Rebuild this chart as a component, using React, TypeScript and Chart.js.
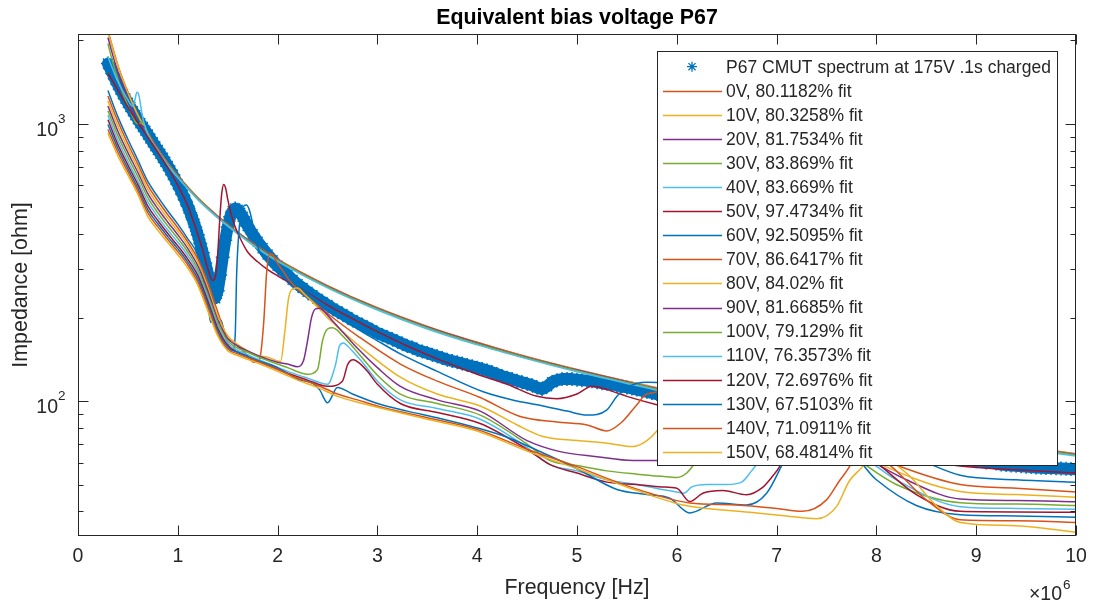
import React, { useEffect, useRef } from "react";
import { Chart, registerables } from "chart.js";

Chart.register(...registerables);

// ---------- data (frequency in MHz, impedance in ohm) ----------
const DATA_LABEL = "P67 CMUT spectrum at 175V .1s charged";
const DATA_F = [
  0.3, 0.325, 0.35, 0.375, 0.4, 0.425, 0.45, 0.475, 0.5, 0.525, 0.55, 0.575, 0.6, 0.625, 0.65, 0.675, 0.7, 0.725, 0.75, 0.775,
  0.8, 0.825, 0.85, 0.875, 0.9, 0.925, 0.95, 0.975, 1.0, 1.025, 1.05, 1.075, 1.1, 1.125, 1.15, 1.175, 1.2, 1.225, 1.25, 1.275,
  1.3, 1.325, 1.35, 1.375, 1.4, 1.425, 1.45, 1.475, 1.5, 1.525, 1.55, 1.575, 1.6, 1.625, 1.65, 1.675, 1.7,
  1.75, 1.8, 1.85, 1.9, 1.95, 2.0, 2.05, 2.1, 2.15, 2.2, 2.25, 2.3, 2.35, 2.4, 2.45, 2.5, 2.55, 2.6, 2.65, 2.7, 2.75, 2.8,
  2.85, 2.9, 2.95, 3.0, 3.05, 3.1, 3.15, 3.2, 3.25, 3.3, 3.35, 3.4, 3.45, 3.5, 3.55, 3.6, 3.65, 3.7, 3.75, 3.8, 3.85, 3.9,
  3.95, 4.0, 4.05, 4.1, 4.15, 4.2, 4.25, 4.3, 4.35, 4.4, 4.45, 4.5, 4.55, 4.6, 4.65, 4.7, 4.75, 4.8, 4.85, 4.9, 4.95, 5.0,
  5.05, 5.1, 5.15, 5.2, 5.25, 5.3, 5.35, 5.4, 5.45, 5.5, 5.55, 5.6, 5.65, 5.7, 5.75, 5.8,
  5.9, 6.0, 6.1, 6.2, 6.3, 6.4, 6.5, 6.6, 6.7, 6.8, 6.9, 7.0, 7.1, 7.2, 7.3, 7.4, 7.5, 7.6, 7.7, 7.8, 7.9, 8.0, 8.1, 8.2,
  8.3, 8.4, 8.5, 8.6, 8.7, 8.8, 8.9, 9.0, 9.1, 9.2,
  9.25, 9.3, 9.35, 9.4, 9.45, 9.5, 9.55, 9.6, 9.65, 9.7, 9.75, 9.8, 9.85, 9.9, 9.95, 10.0,
];
const DATA_Z = [
  1650, 1580, 1510, 1445, 1385, 1330, 1280, 1235, 1190, 1150, 1110, 1075, 1040, 1005, 975, 945, 915, 885, 858, 830,
  805, 780, 755, 730, 705, 680, 655, 630, 605, 580, 555, 530, 505, 478, 452, 425, 398, 370, 343, 315,
  290, 265, 245, 235, 250, 285, 330, 380, 425, 462, 485, 495, 490, 478, 462, 445, 428,
  400, 376, 356, 338, 322, 308, 296, 285, 274, 264, 256, 248, 241, 234, 228, 222, 216, 211, 206, 201, 196, 192,
  188, 184, 180, 176, 173, 170, 167, 164, 161, 158, 156, 153, 151, 149, 147, 145, 143, 141, 139.5, 138, 136.5, 135,
  133.5, 132, 130.5, 129, 127, 125, 123, 121.5, 120, 118.5, 117, 115.5, 114, 112, 110.5, 113, 117, 119, 120, 120, 120, 119.5,
  119, 118.5, 118, 117, 116, 115.5, 115, 114, 113, 112, 111, 110, 109, 108, 107, 106,
  104.5, 103, 101, 99.5, 98, 96.5, 95, 93.5, 92, 90.5, 89, 87.5, 86, 84.5, 83, 81.5, 80, 78.5, 77, 75.5, 74, 72.5, 71, 69.5,
  68, 66.5, 65, 64, 63, 62, 61.3, 60.6, 60, 59.5,
  59, 58.8, 58.6, 58.4, 58.2, 58, 57.8, 57.6, 57.5, 57.4, 57.3, 57.2, 57.1, 57, 56.9, 56.8,
];

const F_0V = [0.3, 0.35, 0.4, 0.45, 0.5, 0.55, 0.6, 0.65, 0.7, 0.8, 0.9, 1.0, 1.2, 1.4, 1.6, 1.8, 2.0, 2.5, 3.0, 3.5, 4.0, 4.5, 5.0, 5.5, 6.0, 7.0, 8.0, 9.0, 10.0];
const Z_0V = [2170, 1870, 1625, 1445, 1300, 1180, 1080, 1000, 930, 813, 722, 651, 542, 465, 407, 362, 325, 261, 217, 186, 163, 144.5, 130, 118, 108, 93, 81.3, 72.2, 64.6];

const F_10V = [0.3, 0.35, 0.4, 0.45, 0.5, 0.55, 0.6, 0.65, 0.7, 0.8, 0.9, 1.0, 1.2, 1.4, 1.6, 1.8, 2.0, 2.5, 3.0, 3.5, 4.0, 4.5, 5.0, 5.5, 6.0, 7.0, 8.0, 9.0, 10.0];
const Z_10V = [2160, 1860, 1618, 1437, 1296, 1176, 1075, 995, 925, 809, 719, 648, 540, 462, 405, 360, 324, 259, 216, 185, 162, 143.7, 129.6, 117.6, 107.5, 92.5, 80.9, 71.9, 64.3];

const F_20V = [0.3, 0.35, 0.4, 0.45, 0.5, 0.55, 0.6, 0.64, 0.67, 0.7, 0.75, 0.8, 0.9, 1.0, 1.2, 1.4, 1.6, 1.8, 2.0, 2.5, 3.0, 3.5, 4.0, 4.5, 5.0, 5.5, 6.0, 7.0, 8.0, 9.0, 10.0];
const Z_20V = [2050, 1760, 1540, 1370, 1230, 1110, 1005, 985, 970, 925, 862, 806, 716, 647, 538, 463, 405, 360, 323, 259, 216, 185, 162, 143.5, 129.4, 117.4, 107.2, 92.2, 80.7, 71.7, 64.2];

const F_30V = [0.3, 0.35, 0.4, 0.45, 0.5, 0.55, 0.58, 0.61, 0.64, 0.67, 0.7, 0.8, 0.9, 1.0, 1.2, 1.4, 1.6, 1.8, 2.0, 2.5, 3.0, 3.5, 4.0, 4.5, 5.0, 5.5, 6.0, 7.0, 8.0, 9.0, 10.0];
const Z_30V = [1950, 1660, 1450, 1290, 1160, 1060, 1010, 1000, 1015, 985, 925, 803, 714, 645, 537, 461, 404, 358, 322, 258, 215, 184, 161, 143, 128.7, 116.8, 106.7, 91.8, 80.3, 71.3, 63.9];

const F_40V = [0.3, 0.35, 0.4, 0.45, 0.5, 0.53, 0.55, 0.57, 0.59, 0.61, 0.63, 0.66, 0.7, 0.8, 0.9, 1.0, 1.2, 1.4, 1.6, 1.8, 2.0, 2.5, 3.0, 3.5, 4.0, 4.5, 5.0, 5.5, 6.0, 7.0, 8.0, 9.0, 10.0];
const Z_40V = [1750, 1570, 1420, 1310, 1220, 1170, 1160, 1220, 1300, 1270, 1150, 1010, 915, 797, 708, 640, 533, 458, 401, 355, 319, 256, 213, 182, 159.5, 142, 127.5, 115.8, 105.8, 91, 79.6, 70.7, 63.3];

const F_50V = [0.3, 0.35, 0.4, 0.5, 0.6, 0.7, 0.8, 0.9, 1.0, 1.1, 1.2, 1.25, 1.3, 1.35, 1.38, 1.4, 1.42, 1.44, 1.46, 1.48, 1.5, 1.53, 1.57, 1.62, 1.7, 1.8, 1.9, 2.0, 2.2, 2.5, 2.8, 3.0, 3.3, 3.6, 4.0, 4.3, 4.6, 4.8, 5.0, 5.15, 5.3, 5.5, 5.8, 6.5, 7.5, 8.5, 8.84, 9.4, 10.0];
const Z_50V = [1520, 1420, 1320, 1150, 1010, 895, 790, 695, 600, 505, 400, 350, 300, 272, 285, 340, 450, 560, 605, 585, 535, 480, 430, 390, 345, 318, 298, 283, 258, 222, 194, 178, 158, 142, 125, 115, 104, 102, 106, 113, 110, 104, 97, 85, 70, 61, 58.3, 56.5, 55];

const F_60V = [0.3, 0.4, 0.5, 0.6, 0.7, 0.8, 0.9, 1.0, 1.1, 1.2, 1.25, 1.3, 1.33, 1.36, 1.39, 1.43, 1.47, 1.51, 1.55, 1.575, 1.59, 1.62, 1.66, 1.69, 1.72, 1.76, 1.8, 1.9, 2.0, 2.2, 2.5, 2.8, 3.0, 3.23, 3.6, 4.06, 4.4, 4.66, 4.9, 5.1, 5.3, 5.4, 5.5, 5.7, 6.2, 7.0, 8.0, 8.5, 8.84, 9.4, 10.0];
const Z_60V = [1320, 1060, 880, 740, 620, 545, 485, 435, 385, 335, 280, 228, 192, 198, 188, 196, 175, 158, 152, 172, 290, 440, 505, 510, 485, 420, 360, 315, 290, 258, 218, 182, 165, 148, 128, 108, 100, 96, 92, 89, 93, 104, 112, 117, 112, 95, 72, 60, 54, 52, 51];

const F_70V = [0.3, 0.4, 0.5, 0.6, 0.7, 0.8, 0.9, 1.0, 1.1, 1.2, 1.3, 1.4, 1.5, 1.55, 1.6, 1.65, 1.7, 1.76, 1.82, 1.86, 1.89, 1.92, 1.95, 1.99, 2.05, 2.12, 2.2, 2.3, 2.5, 2.8, 3.23, 3.6, 4.03, 4.43, 4.8, 5.1, 5.3, 5.45, 5.6, 5.7, 6.2, 7.0, 7.8, 8.3, 8.84, 9.4, 10.0];
const Z_70V = [1260, 1020, 848, 715, 600, 528, 470, 422, 375, 326, 268, 210, 168, 165, 158, 152, 146, 138, 142, 190, 290, 340, 338, 318, 296, 272, 254, 237, 207, 172, 136, 118, 103, 88, 84, 82, 78, 84, 97, 106, 110, 90, 68, 57, 50, 48.5, 47];

const F_80V = [0.3, 0.4, 0.5, 0.6, 0.7, 0.8, 0.9, 1.0, 1.1, 1.2, 1.3, 1.4, 1.5, 1.6, 1.7, 1.8, 1.9, 2.03, 2.07, 2.11, 2.15, 2.2, 2.27, 2.35, 2.5, 2.8, 3.23, 3.6, 4.03, 4.4, 4.66, 5.0, 5.3, 5.56, 5.7, 5.8, 5.9, 6.5, 7.5, 8.0, 8.84, 9.4, 10.0];
const Z_80V = [1210, 980, 818, 692, 580, 510, 456, 410, 365, 318, 258, 203, 172, 160, 152, 146, 144, 139, 175, 235, 254, 256, 243, 228, 200, 160, 122, 106, 96, 82, 74.5, 72, 70.5, 68.5, 72, 78, 88, 100, 75, 60, 47.2, 46, 45];

const F_90V = [0.3, 0.4, 0.5, 0.6, 0.7, 0.8, 0.9, 1.0, 1.1, 1.2, 1.3, 1.4, 1.5, 1.6, 1.8, 2.0, 2.1, 2.2, 2.26, 2.3, 2.34, 2.38, 2.42, 2.48, 2.55, 2.65, 2.8, 3.0, 3.23, 3.6, 4.03, 4.5, 4.83, 5.2, 5.56, 5.8, 6.1, 6.6, 7.4, 7.9, 8.3, 8.84, 9.4, 10.0];
const Z_90V = [1160, 940, 788, 668, 560, 494, 442, 398, 355, 308, 250, 197, 168, 158, 146, 138, 136, 133, 140, 165, 200, 215, 216, 208, 195, 178, 155, 132, 113, 101, 92, 72, 65.7, 63, 61, 61, 66, 80, 75, 62, 52, 44.3, 43.8, 43.3];

const F_100V = [0.3, 0.4, 0.5, 0.6, 0.7, 0.8, 0.9, 1.0, 1.1, 1.2, 1.3, 1.4, 1.5, 1.7, 1.9, 2.1, 2.3, 2.4, 2.45, 2.5, 2.55, 2.6, 2.65, 2.72, 2.8, 3.0, 3.23, 3.6, 4.03, 4.5, 4.73, 5.0, 5.3, 5.6, 5.85, 6.0, 6.1, 6.2, 6.35, 6.8, 7.4, 7.8, 8.2, 8.84, 9.4, 10.0];
const Z_100V = [1115, 905, 760, 645, 542, 478, 428, 386, 345, 299, 242, 192, 165, 150, 140, 132, 125, 130, 165, 182, 184, 180, 172, 162, 150, 124, 106, 98, 89, 70, 61, 58.5, 56, 54.5, 53.5, 53, 55, 61, 72, 85, 78, 62, 50, 43, 42.5, 42];

const F_110V = [0.3, 0.4, 0.5, 0.6, 0.7, 0.8, 0.9, 1.0, 1.1, 1.2, 1.3, 1.4, 1.5, 1.7, 1.9, 2.1, 2.3, 2.5, 2.58, 2.62, 2.66, 2.7, 2.76, 2.85, 3.0, 3.23, 3.6, 4.03, 4.5, 4.73, 5.0, 5.3, 5.6, 5.85, 6.0, 6.07, 6.15, 6.3, 6.5, 6.65, 6.75, 6.85, 7.3, 7.8, 8.2, 8.84, 9.4, 10.0];
const Z_110V = [1075, 873, 733, 622, 523, 462, 414, 374, 335, 292, 236, 187, 162, 147, 137, 128, 121, 115, 135, 158, 162, 158, 150, 138, 118, 101, 94, 86, 68, 59, 56, 52, 50, 48, 47, 46.5, 49, 50, 50, 51, 56, 62, 75, 65, 52, 41.6, 41, 40.7];

const F_120V = [0.3, 0.4, 0.5, 0.6, 0.7, 0.8, 0.9, 1.0, 1.1, 1.2, 1.3, 1.4, 1.5, 1.7, 1.9, 2.1, 2.3, 2.5, 2.65, 2.7, 2.73, 2.76, 2.82, 2.9, 3.0, 3.23, 3.6, 4.03, 4.5, 4.73, 5.0, 5.3, 5.6, 5.85, 6.0, 6.13, 6.26, 6.46, 6.7, 6.86, 6.95, 7.03, 7.1, 7.5, 8.0, 8.4, 8.84, 9.4, 10.0];
const Z_120V = [1035, 842, 710, 604, 505, 448, 402, 363, 325, 284, 230, 183, 159, 145, 135, 126, 119, 113, 118, 135, 140, 141, 137, 128, 115, 98, 91, 83, 67, 59, 55, 51, 50, 49, 48.5, 43.4, 46.5, 47.6, 45.9, 48.8, 53, 58, 66, 80, 60, 46, 40, 39.8, 39.7];

const F_130V = [0.3, 0.4, 0.5, 0.6, 0.7, 0.8, 0.9, 1.0, 1.1, 1.2, 1.3, 1.4, 1.5, 1.6, 1.8, 2.0, 2.2, 2.35, 2.42, 2.5, 2.6, 2.75, 3.0, 3.3, 3.6, 4.0, 4.3, 4.7, 5.0, 5.4, 5.7, 5.93, 6.13, 6.4, 6.7, 6.9, 7.06, 7.15, 7.6, 8.0, 8.4, 8.84, 9.4, 10.0];
const Z_130V = [995, 815, 690, 586, 490, 436, 392, 354, 317, 276, 224, 179, 156, 150, 140, 132, 120, 116, 110, 98.6, 112, 106, 98, 92, 87, 80, 74, 64, 57, 48, 46, 44.6, 39.5, 42.9, 42.2, 46.5, 59.5, 70, 72, 52, 42, 38.9, 38.5, 38.1];

const F_140V = [0.3, 0.4, 0.5, 0.6, 0.7, 0.8, 0.9, 1.0, 1.1, 1.2, 1.3, 1.4, 1.5, 1.6, 1.8, 2.0, 2.2, 2.4, 2.6, 2.8, 3.0, 3.5, 4.0, 4.5, 5.0, 5.4, 5.73, 6.13, 6.6, 7.0, 7.26, 7.5, 7.63, 7.73, 7.8, 8.1, 8.5, 8.84, 9.4, 10.0];
const Z_140V = [955, 790, 672, 572, 477, 425, 383, 346, 310, 269, 218, 175, 154, 148, 139, 130, 121, 114, 106, 101, 96, 87, 79, 67, 58, 51, 46.5, 42.9, 42.2, 41, 40, 44, 51.6, 58, 66, 60, 44, 37.3, 37, 36.5];

const F_150V = [0.3, 0.4, 0.5, 0.6, 0.7, 0.8, 0.9, 1.0, 1.1, 1.2, 1.3, 1.4, 1.5, 1.6, 1.8, 2.0, 2.2, 2.4, 2.6, 2.8, 3.0, 3.5, 4.0, 4.5, 5.0, 5.5, 6.06, 6.73, 7.1, 7.4, 7.6, 7.73, 7.86, 7.95, 8.3, 8.6, 8.84, 9.4, 10.0];
const Z_150V = [925, 766, 653, 557, 463, 413, 373, 337, 302, 262, 212, 172, 152, 146, 137, 128, 119, 112, 104, 99, 95, 86, 78, 66, 57, 49, 42.2, 39.7, 38.5, 37.6, 41.6, 51.6, 58, 65, 55, 42, 36.5, 35.5, 33.6];

const FIT_LABELS = [
  "0V, 80.1182% fit", "10V, 80.3258% fit", "20V, 81.7534% fit", "30V, 83.869% fit",
  "40V, 83.669% fit", "50V, 97.4734% fit", "60V, 92.5095% fit", "70V, 86.6417% fit",
  "80V, 84.02% fit", "90V, 81.6685% fit", "100V, 79.129% fit", "110V, 76.3573% fit",
  "120V, 72.6976% fit", "130V, 67.5103% fit", "140V, 71.0911% fit", "150V, 68.4814% fit",
];
const FIT_F = [F_0V, F_10V, F_20V, F_30V, F_40V, F_50V, F_60V, F_70V, F_80V, F_90V, F_100V, F_110V, F_120V, F_130V, F_140V, F_150V];
const FIT_Z = [Z_0V, Z_10V, Z_20V, Z_30V, Z_40V, Z_50V, Z_60V, Z_70V, Z_80V, Z_90V, Z_100V, Z_110V, Z_120V, Z_130V, Z_140V, Z_150V];

const X_TICKS = [0, 1, 2, 3, 4, 5, 6, 7, 8, 9, 10];
const Y_MAJOR = [100, 1000];
const Y_MINOR = [40, 50, 60, 70, 80, 90, 200, 300, 400, 500, 600, 700, 800, 900, 2000];
const TITLE = "Equivalent bias voltage P67";
const X_TITLE = "Frequency [Hz]";
const Y_TITLE = "Impedance [ohm]";

// ---------- styles ----------
const MATLAB_ORDER = ["#0072BD", "#D95319", "#EDB120", "#7E2F8E", "#77AC30", "#4DBEEE", "#A2142F"];
const FONT = '"Liberation Sans", Arial, Helvetica, sans-serif';
const AXIS_COLOR = "#262626";

function drawStar(ctx: CanvasRenderingContext2D, x: number, y: number, r: number) {
  ctx.beginPath();
  ctx.moveTo(x - r, y); ctx.lineTo(x + r, y);
  ctx.moveTo(x, y - r); ctx.lineTo(x, y + r);
  const d = r * Math.SQRT1_2;
  ctx.moveTo(x - d, y - d); ctx.lineTo(x + d, y + d);
  ctx.moveTo(x - d, y + d); ctx.lineTo(x + d, y - d);
  ctx.stroke();
}

const framePlugin = {
  id: "matlabFrame",
  afterDatasetsDraw(chart: any) {
    const { ctx, chartArea: a, scales } = chart;
    const xs = scales.x;
    const ys = scales.y;
    const L = Math.round(a.left) + 0.5;
    const R = Math.round(a.right) - 0.5;
    const T = Math.round(a.top) + 0.5;
    const B = Math.round(a.bottom) - 0.5;
    ctx.save();

    // ----- legend -----
    const lx = 657.5, ly = 51.5, lw = 400, lh = 414;
    ctx.fillStyle = "#ffffff";
    ctx.fillRect(lx, ly, lw, lh);
    ctx.strokeStyle = AXIS_COLOR;
    ctx.lineWidth = 1;
    ctx.strokeRect(lx, ly, lw, lh);
    ctx.font = `17.5px ${FONT}`;
    ctx.textAlign = "left";
    ctx.textBaseline = "middle";
    const rowY = (i: number) => 66.7 + 24.08 * i;
    ctx.strokeStyle = MATLAB_ORDER[0];
    ctx.lineWidth = 1.3;
    drawStar(ctx, 692, rowY(0), 5);
    ctx.fillStyle = AXIS_COLOR;
    ctx.fillText(DATA_LABEL, 726, rowY(0) + 1);
    FIT_LABELS.forEach((lab, i) => {
      const y = Math.round(rowY(i + 1)) + 0.5;
      ctx.strokeStyle = MATLAB_ORDER[(i + 1) % 7];
      ctx.lineWidth = 1.5;
      ctx.beginPath();
      ctx.moveTo(663, y);
      ctx.lineTo(722, y);
      ctx.stroke();
      ctx.fillStyle = AXIS_COLOR;
      ctx.fillText(lab, 726, rowY(i + 1) + 1);
    });

    // ----- axes box & ticks -----
    ctx.strokeStyle = AXIS_COLOR;
    ctx.lineWidth = 1;
    ctx.strokeRect(L, T, R - L, B - T);
    ctx.beginPath();
    X_TICKS.forEach((t) => {
      const px = Math.round(xs.getPixelForValue(t)) + 0.5;
      ctx.moveTo(px, B); ctx.lineTo(px, B - 10);
      ctx.moveTo(px, T); ctx.lineTo(px, T + 10);
    });
    Y_MAJOR.forEach((t) => {
      const py = Math.round(ys.getPixelForValue(t)) + 0.5;
      ctx.moveTo(L, py); ctx.lineTo(L + 10, py);
      ctx.moveTo(R, py); ctx.lineTo(R - 10, py);
    });
    Y_MINOR.forEach((t) => {
      const py = Math.round(ys.getPixelForValue(t)) + 0.5;
      ctx.moveTo(L, py); ctx.lineTo(L + 5, py);
      ctx.moveTo(R, py); ctx.lineTo(R - 5, py);
    });
    ctx.stroke();

    // ----- tick labels -----
    ctx.fillStyle = AXIS_COLOR;
    ctx.textBaseline = "alphabetic";
    ctx.font = `19.5px ${FONT}`;
    ctx.textAlign = "center";
    X_TICKS.forEach((t) => {
      ctx.fillText(String(t), xs.getPixelForValue(t), 562);
    });
    Y_MAJOR.forEach((t) => {
      const py = ys.getPixelForValue(t);
      const exp = String(Math.round(Math.log10(t)));
      ctx.font = `13.5px ${FONT}`;
      ctx.textAlign = "left";
      ctx.fillText(exp, 58, py - 1);
      ctx.font = `19.5px ${FONT}`;
      ctx.textAlign = "right";
      ctx.fillText("10", 58, py + 12);
    });

    // exponent of x axis
    ctx.font = `19.5px ${FONT}`;
    ctx.textAlign = "right";
    ctx.fillText("\u00d710", 1062, 600);
    ctx.font = `13.5px ${FONT}`;
    ctx.textAlign = "left";
    ctx.fillText("6", 1063, 589);

    // axis titles
    ctx.font = `21.4px ${FONT}`;
    ctx.textAlign = "center";
    ctx.fillText(X_TITLE, (L + R) / 2, 594);
    ctx.save();
    ctx.translate(21, (T + B) / 2);
    ctx.rotate(-Math.PI / 2);
    ctx.textBaseline = "middle";
    ctx.fillText(Y_TITLE, 0, 0);
    ctx.restore();

    // title
    ctx.font = `bold 21.4px ${FONT}`;
    ctx.fillStyle = "#000000";
    ctx.textAlign = "center";
    ctx.fillText(TITLE, (L + R) / 2, 24);

    ctx.restore();
  },
};

export default function App() {
  const ref = useRef<HTMLCanvasElement | null>(null);

  useEffect(() => {
    if (!ref.current) return;
    const datasets: any[] = [
      {
        label: DATA_LABEL,
        data: DATA_F.map((f, i) => ({ x: f, y: DATA_Z[i] })),
        borderColor: MATLAB_ORDER[0],
        backgroundColor: MATLAB_ORDER[0],
        borderWidth: 12,
        borderJoinStyle: "round",
        borderCapStyle: "round",
        showLine: true,
        pointStyle: "star",
        pointRadius: 7,
        pointBorderWidth: 1.5,
        pointBorderColor: MATLAB_ORDER[0],
        pointBackgroundColor: MATLAB_ORDER[0],
        order: 100,
      },
    ];
    FIT_LABELS.forEach((lab, i) => {
      const f = FIT_F[i];
      const z = FIT_Z[i];
      datasets.push({
        label: lab,
        data: f.map((x, k) => ({ x, y: z[k] })),
        borderColor: MATLAB_ORDER[(i + 1) % 7],
        backgroundColor: MATLAB_ORDER[(i + 1) % 7],
        borderWidth: 1.5,
        pointRadius: 0,
        cubicInterpolationMode: "monotone",
        order: 16 - i,
      });
    });

    const chart = new Chart(ref.current, {
      type: "line",
      data: { datasets },
      options: {
        animation: false,
        responsive: false,
        devicePixelRatio: 1,
        events: [],
        layout: { padding: { top: 34, right: 19, left: 0, bottom: 0 } },
        scales: {
          x: {
            type: "linear",
            min: 0,
            max: 10,
            grid: { display: false },
            border: { display: false },
            ticks: { display: false },
            afterFit: (s: any) => { s.height = 67; },
          },
          y: {
            type: "logarithmic",
            min: 32.6,
            max: 2110,
            grid: { display: false },
            border: { display: false },
            ticks: { display: false },
            afterFit: (s: any) => { s.width = 78; },
          },
        },
        plugins: {
          legend: { display: false },
          tooltip: { enabled: false },
          title: { display: false },
        },
      } as any,
      plugins: [framePlugin],
    });
    return () => chart.destroy();
  }, []);

  return (
    <div style={{ position: "fixed", left: 0, top: 0, width: 1095, height: 603, background: "#ffffff" }}>
      <canvas ref={ref} width={1095} height={603} style={{ display: "block" }} />
    </div>
  );
}
